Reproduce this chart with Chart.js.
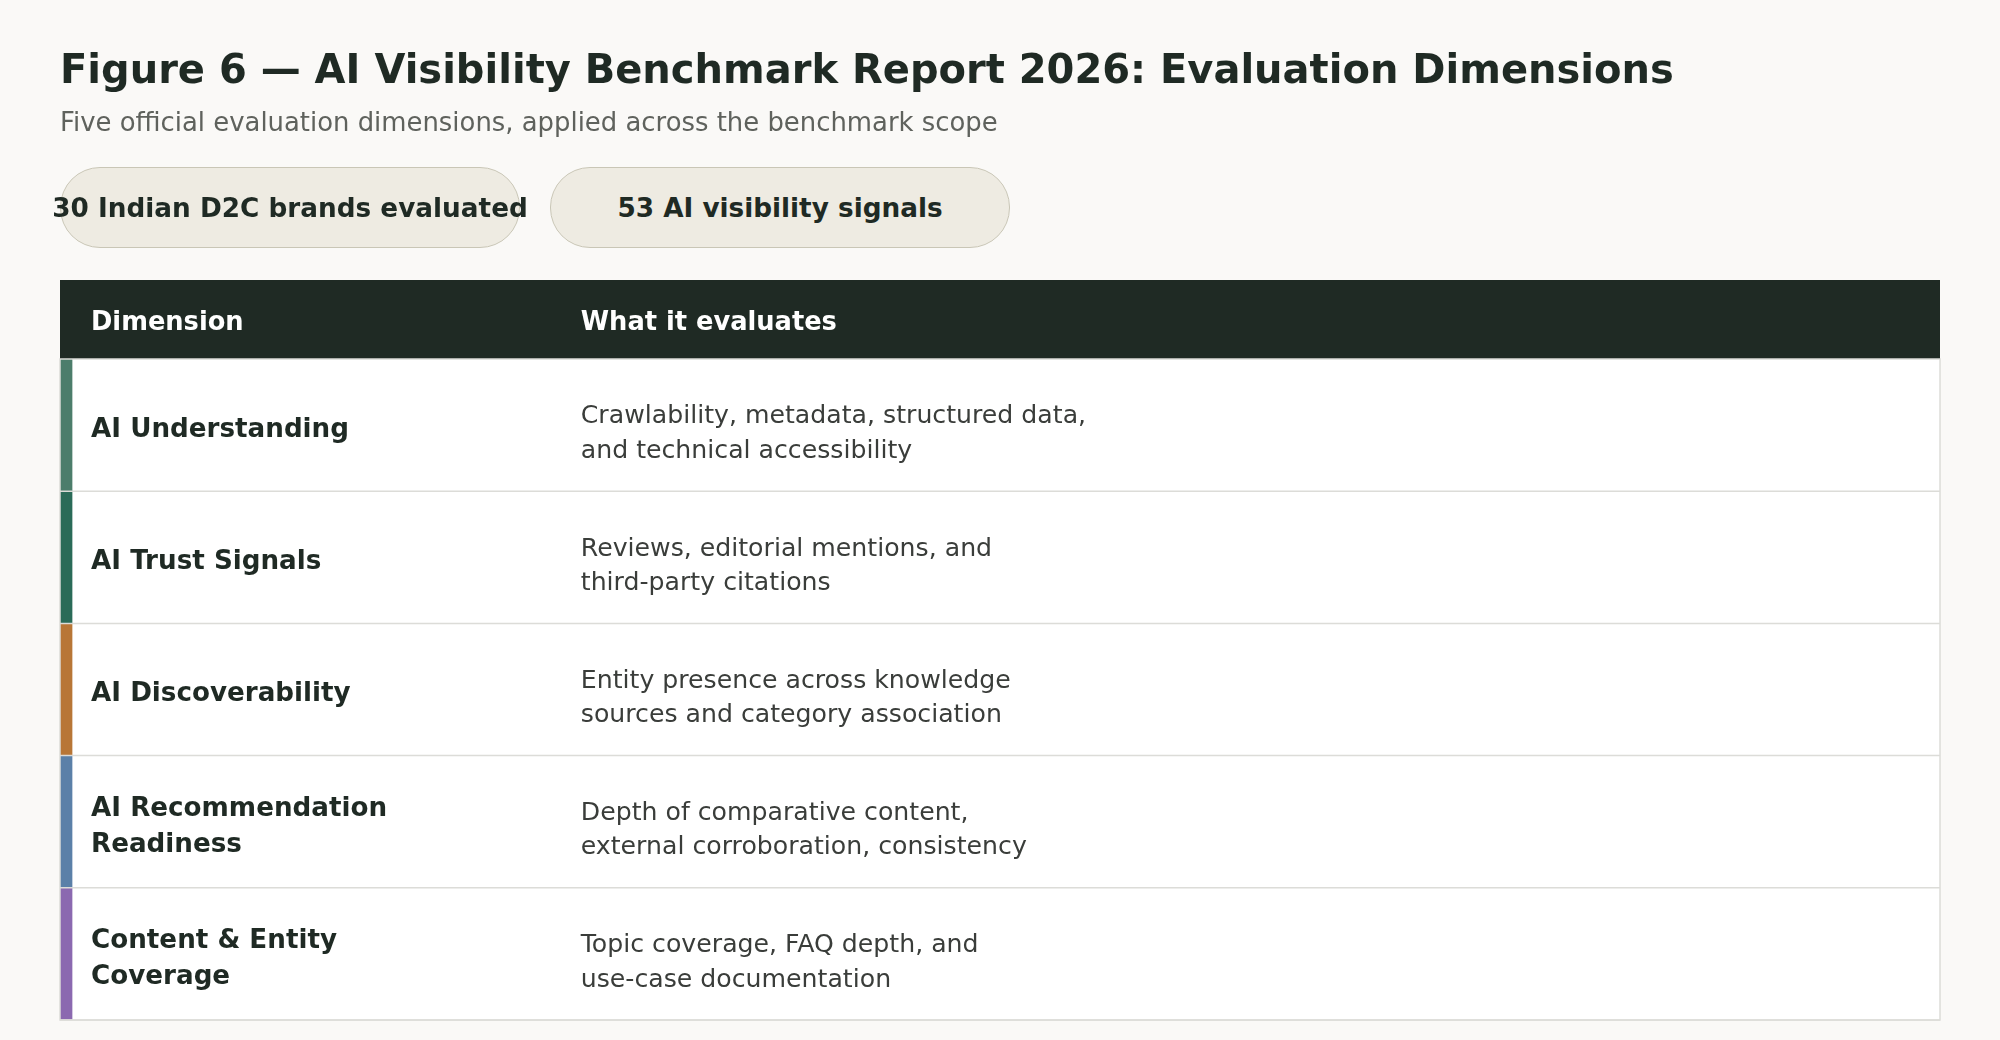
<!DOCTYPE html>
<html><head><meta charset="utf-8">
<script src="https://cdn.jsdelivr.net/npm/chart.js@4"></script>
<style>
html,body{margin:0;padding:0;background:#faf9f7;width:2000px;height:1040px;overflow:hidden;font-family:"DejaVu Sans",sans-serif;}
#wrap{position:absolute;left:0;top:0;width:2000px;height:1040px;}
#title{position:absolute;left:60px;top:46px;font-size:40px;font-weight:bold;color:#1f2a24;white-space:nowrap;}
#sub{position:absolute;left:60px;top:107px;font-size:25.9px;color:#5f625d;white-space:nowrap;}
.pill{position:absolute;top:167px;width:458px;height:79px;border:1.5px solid #c9c6b6;background:#eeebe2;border-radius:40px;display:flex;align-items:center;justify-content:center;font-size:26.3px;font-weight:bold;color:#1f2a24;white-space:nowrap;}
canvas{position:absolute;left:0;top:0;}
</style></head><body>
<div id="wrap"><canvas id="c" width="2000" height="1040"></canvas></div>
<div id="title"></div><div id="sub"></div>
<div class="pill" id="p0" style="left:60px"></div><div class="pill" id="p1" style="left:550px"></div>
<script>
const titleText = "Figure 6 — AI Visibility Benchmark Report 2026: Evaluation Dimensions";
const subtitleText = "Five official evaluation dimensions, applied across the benchmark scope";
const pills = ["30 Indian D2C brands evaluated", "53 AI visibility signals"];
const headers = ["Dimension", "What it evaluates"];
const dimensions = ["AI Understanding", "AI Trust Signals", "AI Discoverability", "AI Recommendation\nReadiness", "Content & Entity\nCoverage"];
const descriptions = ["Crawlability, metadata, structured data,\nand technical accessibility",
  "Reviews, editorial mentions, and\nthird-party citations",
  "Entity presence across knowledge\nsources and category association",
  "Depth of comparative content,\nexternal corroboration, consistency",
  "Topic coverage, FAQ depth, and\nuse-case documentation"];
const accentColors = ["#4c7d6b", "#2a6b58", "#b87636", "#5b80a8", "#8b69b0"];

document.getElementById('title').textContent = titleText;
document.getElementById('sub').textContent = subtitleText;
document.getElementById('p0').textContent = pills[0];
document.getElementById('p1').textContent = pills[1];

const tablePlugin = {
  id: 'tbl',
  beforeDatasetsDraw(chart) {
    const ctx = chart.ctx, a = chart.chartArea;
    ctx.save();
    ctx.fillStyle = '#1f2a24';
    ctx.fillRect(a.left, a.top - 79, a.right - a.left, 79);
    ctx.restore();
  },
  afterDatasetsDraw(chart) {
    const ctx = chart.ctx, a = chart.chartArea, y = chart.scales.y, x = chart.scales.x;
    const col2 = x.getPixelForValue(0.277);
    ctx.save();
    ctx.textBaseline = 'middle';
    ctx.fillStyle = '#ffffff';
    ctx.font = 'bold 25.7px "DejaVu Sans"';
    ctx.fillText(headers[0], a.left + 31, a.top - 36);
    ctx.fillText(headers[1], col2, a.top - 36);
    const half = (y.getPixelForValue(1) - y.getPixelForValue(0)) / 2;
    ctx.strokeStyle = '#dcdcd8'; ctx.lineWidth = 1.5;
    dimensions.forEach((d, i) => {
      const cy = y.getPixelForValue(i);
      ctx.beginPath(); ctx.moveTo(a.left, cy + half); ctx.lineTo(a.right, cy + half); ctx.stroke();
      ctx.fillStyle = '#1f2a24';
      ctx.font = 'bold 26.2px "DejaVu Sans"';
      let ls = d.split('\n');
      ls.forEach((l, k) => ctx.fillText(l, a.left + 31, cy + 5 + (k - (ls.length - 1) / 2) * 36));
      ctx.fillStyle = '#3a3d3a';
      ctx.font = '25.2px "DejaVu Sans"';
      ls = descriptions[i].split('\n');
      ls.forEach((l, k) => ctx.fillText(l, col2, cy + 9 + (k - (ls.length - 1) / 2) * 34.5));
    });
    ctx.strokeRect(a.left, a.top, a.right - a.left, a.bottom - a.top);
    ctx.restore();
  }
};

new Chart(document.getElementById('c'), {
  type: 'bar',
  data: {
    labels: dimensions,
    datasets: [
      { data: dimensions.map(() => [0, 1]), backgroundColor: '#ffffff', barPercentage: 1, categoryPercentage: 1, grouped: false, order: 2 },
      { data: dimensions.map(() => [0, 0.0064]), backgroundColor: accentColors, barPercentage: 1, categoryPercentage: 1, grouped: false, order: 1 }
    ]
  },
  options: {
    indexAxis: 'y', responsive: false, animation: false,
    layout: { padding: { top: 359, left: 60, right: 60, bottom: 20 } },
    plugins: { legend: { display: false }, tooltip: { enabled: false } },
    scales: {
      x: { display: false, min: 0, max: 1 },
      y: { display: false }
    }
  },
  plugins: [tablePlugin]
});
</script></body></html>
